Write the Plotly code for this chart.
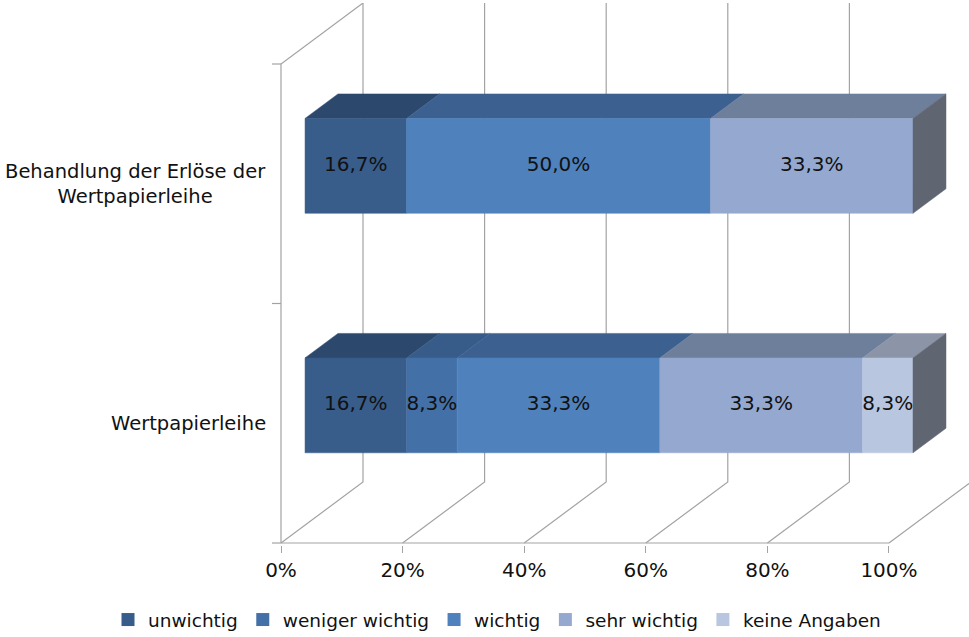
import plotly.graph_objects as go

# ---------------- data ----------------
categories = ["Wertpapierleihe", "Behandlung der Erlöse der<br>Wertpapierleihe"]
series_names = ["unwichtig", "weniger wichtig", "wichtig", "sehr wichtig", "keine Angaben"]
unwichtig = [16.7, 16.7]
weniger_wichtig = [8.3, 0.0]
wichtig = [33.3, 50.0]
sehr_wichtig = [33.3, 33.3]
keine_angaben = [8.3, 0.0]
x_ticks = [0, 20, 40, 60, 80, 100]
x_tick_labels = ["0%", "20%", "40%", "60%", "80%", "100%"]

series_values = [unwichtig, weniger_wichtig, wichtig, sehr_wichtig, keine_angaben]

# ---------------- styles ----------------
front_colors = ["#395D8A", "#4470A8", "#4F81BD", "#95A9D0", "#B9C6E0"]
top_colors = ["#2C486C", "#375C8A", "#3C6190", "#6E7F9B", "#8C95A8"]
side_color = "#5F6571"
grid_color = "#A3A3A3"
FONT = "DejaVu Sans"

# 3D projection parameters (depth vector in axis units)
DX = 82 / 6.08      # depth shift along x (axis units, %)
DY = 61 / 239.5     # depth shift along y (category units)
F0, F1 = 0.293, 0.695  # bar depth extent (fraction of full depth)
H = 0.198           # half bar height (category units)
Y0 = -0.5
YTOP = len(categories) - 0.5
TICKL = 9 / 6.08

fig = go.Figure()

# ---- walls / gridlines ----
gx, gy = [], []
for t in x_ticks:
    gx += [t, t + DX, t + DX, None]
    gy += [Y0, Y0 + DY, YTOP + DY, None]
gx += [0, 0, DX, None]
gy += [Y0, YTOP, YTOP + DY, None]
gx += [0, x_ticks[-1], None]
gy += [Y0, Y0, None]
for i in range(len(categories) + 1):
    b = i - 0.5
    gx += [-TICKL, 0, None]
    gy += [b, b, None]
fig.add_trace(go.Scatter(x=gx, y=gy, mode="lines", line=dict(color=grid_color, width=1.2),
                         hoverinfo="skip", showlegend=False))

# ---- bars ----
label_x, label_y, label_t = [], [], []
for ci in range(len(categories)):
    total = sum(s[ci] for s in series_values)
    start = 0.0
    last_idx = max(i for i, s in enumerate(series_values) if s[ci] > 0)
    for si, s in enumerate(series_values):
        v = s[ci]
        if v <= 0:
            continue
        a = start
        b = start + v / total * 100
        start = b
        yb, yt = ci - H, ci + H
        # top face
        fig.add_trace(go.Scatter(
            x=[a + F0 * DX, b + F0 * DX, b + F1 * DX, a + F1 * DX, a + F0 * DX],
            y=[yt + F0 * DY, yt + F0 * DY, yt + F1 * DY, yt + F1 * DY, yt + F0 * DY],
            mode="lines", fill="toself", fillcolor=top_colors[si],
            line=dict(color=top_colors[si], width=0.5), hoverinfo="skip", showlegend=False))
        # front face
        fig.add_trace(go.Scatter(
            x=[a + F0 * DX, b + F0 * DX, b + F0 * DX, a + F0 * DX, a + F0 * DX],
            y=[yb + F0 * DY, yb + F0 * DY, yt + F0 * DY, yt + F0 * DY, yb + F0 * DY],
            mode="lines", fill="toself", fillcolor=front_colors[si],
            line=dict(color=front_colors[si], width=0.5), hoverinfo="skip", showlegend=False))
        if si == last_idx:
            fig.add_trace(go.Scatter(
                x=[b + F0 * DX, b + F1 * DX, b + F1 * DX, b + F0 * DX, b + F0 * DX],
                y=[yb + F0 * DY, yb + F1 * DY, yt + F1 * DY, yt + F0 * DY, yb + F0 * DY],
                mode="lines", fill="toself", fillcolor=side_color,
                line=dict(color=side_color, width=0.5), hoverinfo="skip", showlegend=False))
        label_x.append((a + b) / 2 + F0 * DX)
        label_y.append(ci + F0 * DY)
        label_t.append(f"{v:.1f}".replace(".", ",") + "%")

fig.add_trace(go.Scatter(x=label_x, y=label_y, text=label_t, mode="text",
                         textfont=dict(family=FONT, size=20, color="#111111"),
                         hoverinfo="skip", showlegend=False))

# ---- legend entries ----
for si, name in enumerate(series_names):
    fig.add_trace(go.Scatter(x=[None], y=[None], mode="markers", name=name,
                             marker=dict(symbol="square", size=13, color=front_colors[si])))

# ---- category labels ----
for ci, cat in enumerate(categories):
    fig.add_annotation(x=0, xref="paper", xanchor="right", xshift=-1,
                       y=ci, yref="y", yanchor="middle",
                       text=cat, showarrow=False, align="center",
                       font=dict(family=FONT, size=19.5, color="#111111"))

fig.update_layout(
    width=969, height=637,
    margin=dict(l=269, r=0, t=3, b=92, autoexpand=False),
    paper_bgcolor="white", plot_bgcolor="white",
    font=dict(family=FONT, size=20, color="#111111"),
    xaxis=dict(range=[-1.974, 113.16], tickvals=x_ticks, ticktext=x_tick_labels,
               showgrid=False, zeroline=False, showline=False,
               ticks="outside", ticklen=7, tickcolor=grid_color, tickwidth=1.2,
               tickfont=dict(family=FONT, size=20, color="#111111"), fixedrange=True),
    yaxis=dict(range=[Y0 - 2 / 239.5, YTOP + DY], showticklabels=False,
               showgrid=False, zeroline=False, showline=False, ticks="", fixedrange=True),
    showlegend=True,
    legend=dict(orientation="h", x=-0.23, xanchor="left", y=-0.1384, yanchor="middle",
                font=dict(family=FONT, size=18.5, color="#111111"),
                itemsizing="trace", bgcolor="rgba(0,0,0,0)"),
)

fig.write_html("out.html")
